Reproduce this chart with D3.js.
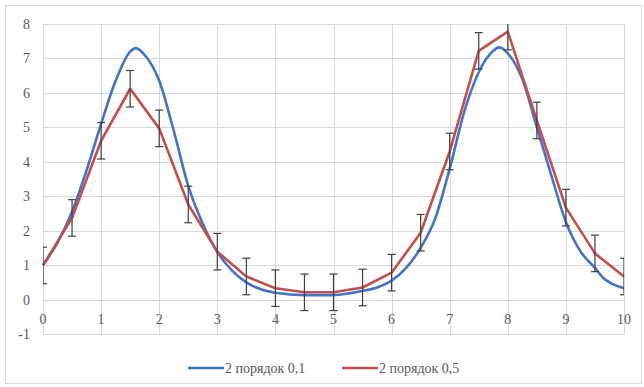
<!DOCTYPE html>
<html>
<head>
<meta charset="utf-8">
<script src="https://cdn.jsdelivr.net/npm/d3@7"></script>
<style>
  body { margin: 0; background: #fff; }
  svg { display: block; }
</style>
</head>
<body>
<svg id="chart" width="644" height="387"></svg>
<script>
// series "2 порядок 0,5" (with error bars)
var redX = [0, 0.5, 1, 1.5, 2, 2.5, 3, 3.5, 4, 4.5, 5, 5.5, 6, 6.5, 7, 7.5, 8, 8.5, 9, 9.5, 10];
var redY = [0.99, 2.37, 4.61, 6.12, 4.97, 2.76, 1.39, 0.67, 0.33, 0.21, 0.21, 0.35, 0.78, 1.94, 4.3, 7.22, 7.78, 5.2, 2.67, 1.34, 0.67];
var errSize = 0.53;

// series "2 порядок 0,1"
var blueX = [0, 0.25, 0.5, 0.75, 1, 1.25, 1.5, 1.6, 1.75, 2, 2.25, 2.5, 2.75, 3, 3.25, 3.5, 3.75, 4, 4.5, 5, 5.5, 5.75, 6, 6.25, 6.5, 6.75, 7, 7.25, 7.5, 7.75, 7.85, 8, 8.25, 8.5, 8.75, 9, 9.25, 9.5, 9.65, 9.75, 10];
var blueY = [1.0, 1.65, 2.55, 3.75, 5.1, 6.35, 7.2, 7.3, 7.1, 6.35, 4.9, 3.3, 2.2, 1.38, 0.85, 0.5, 0.3, 0.2, 0.13, 0.13, 0.25, 0.35, 0.55, 0.92, 1.5, 2.35, 3.8, 5.45, 6.6, 7.22, 7.32, 7.15, 6.4, 5.0, 3.6, 2.25, 1.4, 0.92, 0.62, 0.5, 0.33];

var xTicks = [0, 1, 2, 3, 4, 5, 6, 7, 8, 9, 10];
var yTicks = [-1, 0, 1, 2, 3, 4, 5, 6, 7, 8];
var seriesNames = ["2 порядок 0,1", "2 порядок 0,5"];
var colors = ["#4472c4", "#c0504d"];
var serif = "'Liberation Serif', 'Times New Roman', 'DejaVu Serif', serif";

var svg = d3.select("#chart");

// outer frame
svg.append("rect")
    .attr("x", 5.5).attr("y", 5.5)
    .attr("width", 636).attr("height", 378)
    .attr("fill", "#fff")
    .attr("stroke", "#d9d9d9");

var x = d3.scaleLinear().domain([0, 10]).range([43, 624]);
var y = d3.scaleLinear().domain([-1, 8]).range([334, 24]);

// grid
svg.append("g")
    .selectAll("line")
    .data(yTicks)
    .enter().append("line")
    .attr("x1", x(0)).attr("x2", x(10))
    .attr("y1", function (d) { return Math.round(y(d)) + 0.5; })
    .attr("y2", function (d) { return Math.round(y(d)) + 0.5; })
    .attr("stroke", "#d9d9d9");

svg.append("g")
    .selectAll("line")
    .data(xTicks)
    .enter().append("line")
    .attr("x1", function (d) { return Math.round(x(d)) + 0.5; })
    .attr("x2", function (d) { return Math.round(x(d)) + 0.5; })
    .attr("y1", y(8)).attr("y2", y(-1))
    .attr("stroke", "#d9d9d9");

// y labels
svg.append("g")
    .selectAll("text")
    .data(yTicks)
    .enter().append("text")
    .attr("x", 30)
    .attr("y", function (d) { return y(d) + 5; })
    .attr("text-anchor", "end")
    .attr("font-family", serif)
    .attr("font-size", 14)
    .attr("fill", "#595959")
    .text(function (d) { return d; });

// x labels (axis crosses at 0)
svg.append("g")
    .selectAll("text")
    .data(xTicks)
    .enter().append("text")
    .attr("x", function (d) { return x(d); })
    .attr("y", y(0) + 24)
    .attr("text-anchor", "middle")
    .attr("font-family", serif)
    .attr("font-size", 14)
    .attr("fill", "#595959")
    .text(function (d) { return d; });

svg.append("clipPath").attr("id", "plotclip")
    .append("rect")
    .attr("x", x(0)).attr("y", y(8))
    .attr("width", x(10) - x(0)).attr("height", y(-1) - y(8));

var line = d3.line()
    .x(function (d) { return x(d[0]); })
    .y(function (d) { return y(d[1]); });

// blue curve
svg.append("path")
    .attr("d", line.curve(d3.curveMonotoneX)(d3.zip(blueX, blueY)))
    .attr("fill", "none")
    .attr("stroke", colors[0])
    .attr("stroke-width", 2.6)
    .attr("stroke-linejoin", "round");

// red polyline
svg.append("path")
    .attr("d", line.curve(d3.curveLinear)(d3.zip(redX, redY)))
    .attr("fill", "none")
    .attr("stroke", colors[1])
    .attr("stroke-width", 2.6)
    .attr("stroke-linejoin", "round");

// error bars
var eb = svg.append("g")
    .attr("clip-path", "url(#plotclip)")
    .attr("stroke", "#404040")
    .attr("stroke-width", 1.2);

var pts = d3.zip(redX, redY);
eb.selectAll(".stem").data(pts).enter().append("line")
    .attr("x1", function (d) { return x(d[0]); })
    .attr("x2", function (d) { return x(d[0]); })
    .attr("y1", function (d) { return y(d[1] - errSize); })
    .attr("y2", function (d) { return y(d[1] + errSize); });
[-1, 1].forEach(function (s) {
    eb.selectAll(".cap" + s).data(pts).enter().append("line")
        .attr("x1", function (d) { return x(d[0]) - 4; })
        .attr("x2", function (d) { return x(d[0]) + 4; })
        .attr("y1", function (d) { return y(d[1] + s * errSize); })
        .attr("y2", function (d) { return y(d[1] + s * errSize); });
});

// legend
var legX = [188, 342];
seriesNames.forEach(function (name, i) {
    svg.append("line")
        .attr("x1", legX[i]).attr("x2", legX[i] + 36)
        .attr("y1", 368).attr("y2", 368)
        .attr("stroke", colors[i])
        .attr("stroke-width", 2.6);
    svg.append("text")
        .attr("x", legX[i] + 37)
        .attr("y", 372.5)
        .attr("font-family", serif)
        .attr("font-size", 14)
        .attr("fill", "#595959")
        .text(name);
});
</script>
</body>
</html>
